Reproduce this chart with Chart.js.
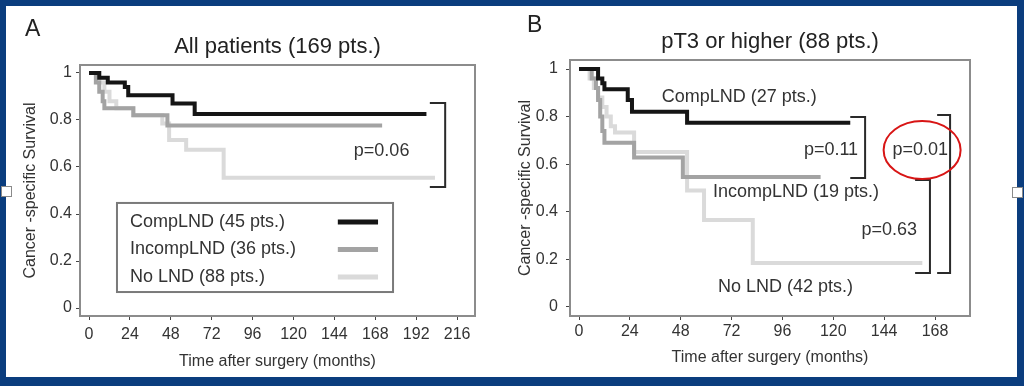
<!DOCTYPE html>
<html>
<head>
<meta charset="utf-8">
<script src="https://cdn.jsdelivr.net/npm/chart.js@4.4.1/dist/chart.umd.min.js"></script>
<style>
  html, body { margin: 0; padding: 0; }
  body { width: 1024px; height: 386px; background: #0b3d7e; position: relative; overflow: hidden; }
  #pagina { position: absolute; left: 6px; top: 6px; width: 1011px; height: 371px; background: #fff; }
  canvas { position: absolute; top: 0; }
  #graficoA { left: 0; }
  #graficoB { left: 505px; }
  .alca { position: absolute; width: 9px; height: 9px; background: #fff; border: 1px solid #8a8a8a; }
</style>
</head>
<body>
<div id="pagina"></div>
<canvas id="graficoA" width="505" height="386"></canvas>
<canvas id="graficoB" width="519" height="386"></canvas>
<div class="alca" style="left:1px;top:186px"></div>
<div class="alca" style="left:1012px;top:187px"></div>
<script>
// ticks
const ticksY = [0, 0.2, 0.4, 0.6, 0.8, 1];
const rotulosY = ["0", "0.2", "0.4", "0.6", "0.8", "1"];
const ticksXA = [0, 24, 48, 72, 96, 120, 144, 168, 192, 216];
const ticksXB = [0, 24, 48, 72, 96, 120, 144, 168];

// painel A - todos os pacientes
const rotulosA = ["CompLND (45 pts.)", "IncompLND (36 pts.)", "No LND (88 pts.)"];
const tempoCompA = [0, 6, 11, 21, 23, 49, 62, 198];
const survCompA = [1, 0.98, 0.96, 0.94, 0.905, 0.87, 0.825, 0.825];
const tempoIncompA = [0, 4, 6, 8, 9, 26, 46, 172];
const survIncompA = [1, 0.96, 0.92, 0.88, 0.85, 0.82, 0.777, 0.777];
const tempoNoA = [0, 6, 9, 12, 16, 26, 43, 47, 57, 79, 203];
const survNoA = [1, 0.96, 0.92, 0.88, 0.85, 0.82, 0.785, 0.715, 0.673, 0.554, 0.554];

// painel B - pT3 ou maior
const rotulosB = ["CompLND (27 pts.)", "IncompLND (19 pts.)", "No LND (42 pts.)"];
const tempoCompB = [0, 9, 11, 12, 23, 25, 51, 128];
const survCompB = [1, 0.96, 0.94, 0.915, 0.87, 0.82, 0.774, 0.774];
const tempoIncompB = [0, 6, 8, 9, 10, 11, 12, 26, 49, 114];
const survIncompB = [1, 0.96, 0.92, 0.87, 0.8, 0.74, 0.69, 0.628, 0.546, 0.546];
const tempoNoB = [0, 5, 7, 9, 11, 13, 15, 17, 26, 51, 59, 82, 162];
const survNoB = [1, 0.96, 0.92, 0.88, 0.84, 0.8, 0.76, 0.733, 0.651, 0.49, 0.366, 0.185, 0.185];

const cores = ["#151515", "#a3a3a3", "#dadada"];
const fonte = '"Liberation Sans", Arial, sans-serif';

Chart.defaults.font.family = fonte;
Chart.defaults.color = "#333";

function serie(tempos, valores) {
    return tempos.map((t, i) => ({ x: t, y: valores[i] }));
}

function montarDatasets(rotulos, series) {
    return series.map((s, i) => ({
        label: rotulos[i],
        data: s,
        borderColor: cores[i],
        borderWidth: 4,
        pointRadius: 0,
        stepped: "before", // horizontal primeiro, depois desce (Kaplan-Meier)
        fill: false,
        borderCapStyle: "butt"
    }));
}

// desenha moldura, letra do painel, colchetes, textos e legenda
const anotacoes = {
    id: "anotacoes",
    beforeDatasetsDraw(chart) {
        const { ctx, chartArea: a } = chart;
        ctx.save();
        ctx.strokeStyle = "#8c8c8c";
        ctx.lineWidth = 2;
        ctx.strokeRect(a.left, a.top, a.right - a.left, a.bottom - a.top);
        ctx.restore();
    },
    afterDraw(chart, args, opts) {
        const { ctx } = chart;
        const px = v => chart.scales.x.getPixelForValue(v);
        const py = v => chart.scales.y.getPixelForValue(v);
        ctx.save();
        ctx.textBaseline = "middle";

        ctx.fillStyle = "#222";
        ctx.font = "23px " + fonte;
        ctx.textAlign = "left";
        ctx.fillText(opts.letra, opts.letraX, opts.letraY);

        ctx.strokeStyle = "#2a2a2a";
        ctx.lineWidth = 2;
        (opts.colchetes || []).forEach(c => {
            ctx.beginPath();
            ctx.moveTo(px(c.x0), py(c.y0));
            ctx.lineTo(px(c.x1), py(c.y0));
            ctx.lineTo(px(c.x1), py(c.y1));
            ctx.lineTo(px(c.x0), py(c.y1));
            ctx.stroke();
        });

        ctx.font = "18px " + fonte;
        ctx.fillStyle = "#333";
        (opts.textos || []).forEach(t => {
            ctx.textAlign = t.align || "left";
            ctx.fillText(t.texto, px(t.x), py(t.y));
        });

        if (opts.elipse) {
            const e = opts.elipse;
            ctx.strokeStyle = "#d81515";
            ctx.lineWidth = 2;
            ctx.beginPath();
            ctx.ellipse(px(e.x), py(e.y), e.rx, e.ry, 0, 0, Math.PI * 2);
            ctx.stroke();
        }

        if (opts.legenda) {
            const l = opts.legenda;
            const x0 = px(l.x0), x1 = px(l.x1), y0 = py(l.y0), y1 = py(l.y1);
            ctx.fillStyle = "#fff";
            ctx.fillRect(x0, y0, x1 - x0, y1 - y0);
            ctx.strokeStyle = "#7a7a7a";
            ctx.lineWidth = 2;
            ctx.strokeRect(x0, y0, x1 - x0, y1 - y0);
            chart.data.datasets.forEach((ds, i) => {
                const yy = py(l.linha0 - i * l.passo);
                ctx.fillStyle = "#333";
                ctx.textAlign = "left";
                ctx.fillText(ds.label, px(l.xTexto), yy);
                ctx.strokeStyle = ds.borderColor;
                ctx.lineWidth = 5;
                ctx.beginPath();
                ctx.moveTo(px(l.xa), yy);
                ctx.lineTo(px(l.xb), yy);
                ctx.stroke();
            });
        }
        ctx.restore();
    }
};

function criarGrafico(id, datasets, cfg) {
    const ctx = document.getElementById(id).getContext("2d");
    return new Chart(ctx, {
        type: "line",
        data: { datasets },
        plugins: [anotacoes],
        options: {
            responsive: false,
            animation: false,
            layout: { padding: { left: 0, right: cfg.padDir, top: 0, bottom: 0 } },
            plugins: {
                legend: { display: false },
                tooltip: { enabled: false },
                title: {
                    display: true,
                    text: cfg.titulo,
                    fullSize: false,
                    color: "#222",
                    font: { size: 22, weight: "normal" },
                    padding: { top: cfg.tituloTopo, bottom: 4.8 }
                },
                anotacoes: cfg.notas
            },
            scales: {
                x: {
                    type: "linear",
                    min: cfg.xMin,
                    max: cfg.xMax,
                    afterBuildTicks: axis => { axis.ticks = cfg.ticksX.map(v => ({ value: v })); },
                    afterFit: s => { s.height = 70; },
                    ticks: { font: { size: 16 }, padding: cfg.padTickX, maxRotation: 0, autoSkip: false, color: "#333" },
                    grid: { drawOnChartArea: false, tickLength: 4, color: "#444" },
                    border: { color: "#444", width: 2 },
                    title: {
                        display: true,
                        text: "Time after surgery (months)",
                        font: { size: 16 },
                        color: "#333",
                        padding: { top: 0, bottom: cfg.padTituloX }
                    }
                },
                y: {
                    min: cfg.yMin,
                    max: cfg.yMax,
                    afterBuildTicks: axis => { axis.ticks = ticksY.map(v => ({ value: v })); },
                    afterFit: s => { s.width = cfg.larguraY; },
                    ticks: {
                        font: { size: 16 },
                        padding: cfg.padTickY,
                        color: "#333",
                        callback: v => rotulosY[ticksY.indexOf(v)]
                    },
                    grid: { drawOnChartArea: false, tickLength: 4, color: "#444" },
                    border: { color: "#444", width: 2 },
                    title: {
                        display: true,
                        text: "Cancer -specific Survival",
                        font: { size: 16 },
                        color: "#333",
                        padding: { top: cfg.padTituloY, bottom: 0 }
                    }
                }
            }
        }
    });
}

window.onload = () => {
    criarGrafico("graficoA", montarDatasets(rotulosA, [
        serie(tempoCompA, survCompA),
        serie(tempoIncompA, survIncompA),
        serie(tempoNoA, survNoA)
    ]), {
        titulo: "All patients (169 pts.)",
        tituloTopo: 33.8,
        padDir: 30,
        larguraY: 80,
        xMin: -5.3, xMax: 226.5,
        yMin: -0.034, yMax: 1.034,
        ticksX: ticksXA,
        padTickX: 5,
        padTickY: 4,
        padTituloX: 15,
        padTituloY: 21.4,
        notas: {
            letra: "A", letraX: 25, letraY: 30,
            colchetes: [{ x0: 200, x1: 209, y0: 0.872, y1: 0.515 }],
            textos: [{ texto: "p=0.06", x: 188, y: 0.668, align: "right" }],
            legenda: { x0: 16.4, x1: 178.4, y0: 0.447, y1: 0.068, linha0: 0.366, passo: 0.117, xTexto: 24, xa: 146, xb: 169.6 }
        }
    });

    criarGrafico("graficoB", montarDatasets(rotulosB, [
        serie(tempoCompB, survCompB),
        serie(tempoIncompB, survIncompB),
        serie(tempoNoB, survNoB)
    ]), {
        titulo: "pT3 or higher (88 pts.)",
        tituloTopo: 28.8,
        padDir: 54,
        larguraY: 65,
        xMin: -4.25, xMax: 184.5,
        yMin: -0.038, yMax: 1.038,
        ticksX: ticksXB,
        padTickX: 2.4,
        padTickY: 8,
        padTituloX: 18.4,
        padTituloY: 11.4,
        notas: {
            letra: "B", letraX: 22, letraY: 26,
            colchetes: [
                { x0: 128, x1: 135, y0: 0.798, y1: 0.542 },
                { x0: 158.6, x1: 165.6, y0: 0.534, y1: 0.143 },
                { x0: 169, x1: 175.1, y0: 0.807, y1: 0.143 }
            ],
            textos: [
                { texto: "CompLND (27 pts.)", x: 39, y: 0.882 },
                { texto: "IncompLND (19 pts.)", x: 63.2, y: 0.483 },
                { texto: "No LND (42 pts.)", x: 65.6, y: 0.084 },
                { texto: "p=0.11", x: 131.7, y: 0.66, align: "right" },
                { texto: "p=0.63", x: 159.5, y: 0.324, align: "right" },
                { texto: "p=0.01", x: 161, y: 0.66, align: "center" }
            ],
            elipse: { x: 161.9, y: 0.66, rx: 38.5, ry: 29 }
        }
    });
};
</script>
</body>
</html>
